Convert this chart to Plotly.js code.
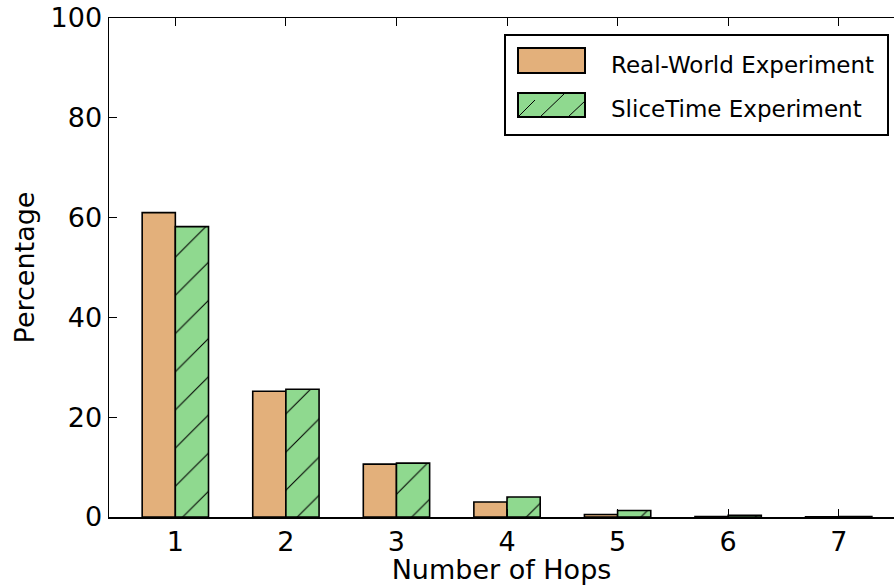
<!DOCTYPE html>
<html>
<head>
<meta charset="utf-8">
<script src="https://cdn.plot.ly/plotly-3.0.1.min.js"></script>
<style>html,body{margin:0;padding:0;background:#fff;}#chart{width:894px;height:585px;}</style>
</head>
<body>
<div id="chart"></div>
<script>
var hops = [1, 2, 3, 4, 5, 6, 7];
var realWorld = [61.0, 25.2, 10.6, 3.0, 0.5, 0.08, 0.05];
var sliceTime = [58.2, 25.6, 10.8, 4.0, 1.3, 0.35, 0.1];
var seriesNames = ['Real-World Experiment', 'SliceTime Experiment'];
var yTicks = [0, 20, 40, 60, 80, 100];

var orange = '#E3B07B';
var green = '#8FD98F';

var traces = [
  {type: 'bar', x: hops, y: realWorld, name: seriesNames[0], width: 0.3, offset: -0.3,
   marker: {color: orange, line: {color: '#000', width: 1.6}}, showlegend: false},
  {type: 'bar', x: hops, y: sliceTime, name: seriesNames[1], width: 0.3, offset: 0,
   marker: {color: green, line: {color: '#000', width: 1.6},
            pattern: {shape: '/', fgcolor: '#000', bgcolor: green, size: 27, solidity: 0.04}},
   showlegend: false}
];

// legend geometry in pixels -> paper
var L = 109, T = 18, W = 785, H = 499;
function px(x){ return (x - L) / W; }
function py(y){ return (T + H - y) / H; }
var shapes = [];
shapes.push({type: 'rect', xref: 'paper', yref: 'paper', x0: px(505), x1: px(888), y0: py(35), y1: py(135),
  line: {color: '#000', width: 2}, fillcolor: '#fff', layer: 'above'});
shapes.push({type: 'rect', xref: 'paper', yref: 'paper', x0: px(518), x1: px(585), y0: py(48), y1: py(73),
  line: {color: '#000', width: 2}, fillcolor: orange, layer: 'above'});
shapes.push({type: 'rect', xref: 'paper', yref: 'paper', x0: px(518), x1: px(585), y0: py(93), y1: py(117),
  line: {color: '#000', width: 2}, fillcolor: green, layer: 'above'});
// hatch in legend swatch
[[519, 116, 535, 100], [540, 117, 564, 94], [568, 117, 585, 101]].forEach(function(s){
  shapes.push({type: 'line', xref: 'paper', yref: 'paper', x0: px(s[0]), y0: py(s[1]), x1: px(s[2]), y1: py(s[3]),
    line: {color: '#000', width: 1}, layer: 'above'});
});

var annotations = [
  {xref: 'paper', yref: 'paper', x: px(609), y: py(65), text: seriesNames[0], showarrow: false,
   xanchor: 'left', yanchor: 'middle', font: {size: 23, color: '#000'}},
  {xref: 'paper', yref: 'paper', x: px(609), y: py(109), text: seriesNames[1], showarrow: false,
   xanchor: 'left', yanchor: 'middle', font: {size: 23, color: '#000'}}
];

var layout = {
  width: 894, height: 585,
  margin: {l: 109, r: 0, t: 18, b: 68},
  paper_bgcolor: '#fff', plot_bgcolor: '#fff',
  font: {family: 'DejaVu Sans, sans-serif', color: '#000', size: 27},
  barmode: 'overlay',
  showlegend: false,
  xaxis: {range: [0.4, 7.5], tickvals: hops, ticktext: hops.map(String),
    ticks: 'inside', ticklen: 8, tickwidth: 1, tickcolor: '#000',
    showline: true, linecolor: '#000', linewidth: 1.5, mirror: 'allticks',
    showgrid: false, zeroline: false, automargin: false,
    tickfont: {size: 27}, title: {text: 'Number of Hops', font: {size: 27}, standoff: 4}},
  yaxis: {range: [0, 100], tickvals: yTicks, ticks: 'inside', ticklen: 8, tickwidth: 1, tickcolor: '#000',
    showline: true, linecolor: '#000', linewidth: 1.5, mirror: false,
    showgrid: false, zeroline: false, automargin: false,
    tickfont: {size: 27}, title: {text: 'Percentage', font: {size: 27}, standoff: 8}},
  shapes: shapes,
  annotations: annotations
};

Plotly.newPlot('chart', traces, layout, {displayModeBar: false, staticPlot: true});
</script>
</body>
</html>
